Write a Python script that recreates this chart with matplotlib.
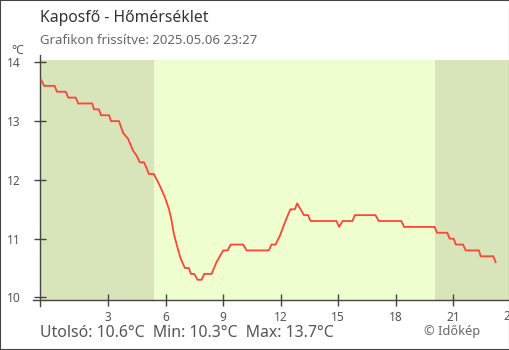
import matplotlib
matplotlib.use("Agg")
import matplotlib.pyplot as plt
from matplotlib.patches import Rectangle
from matplotlib.transforms import blended_transform_factory

plt.rcParams['font.family'] = ['Noto Sans', 'DejaVu Sans']

# Hourly time axis (hours of 2025.05.06, negative = previous evening)
hours = [-0.50, -0.35, 0.20, 0.32, 0.78, 0.91, 1.30, 1.43, 2.16, 2.25, 2.51, 2.62,
         3.04, 3.14, 3.56, 3.77, 4.03, 4.29, 4.50, 4.64, 4.86, 5.00, 5.12, 5.38,
         5.69, 5.96, 6.17, 6.31, 6.41, 6.57, 6.74, 6.86, 7.00, 7.21, 7.31, 7.49,
         7.66, 7.87, 8.01, 8.39, 8.65, 9.00, 9.23, 9.39, 10.04, 10.22, 11.38, 11.52,
         11.73, 11.96, 12.13, 12.31, 12.51, 12.74, 12.86, 13.04, 13.21, 13.43, 13.56,
         14.91, 15.05, 15.23, 15.75, 15.87, 16.95, 17.12, 18.30, 18.44, 20.04, 20.16,
         20.70, 20.82, 21.03, 21.14, 21.52, 21.66, 22.35, 22.44, 23.10, 23.22]
temps = [13.7, 13.6, 13.6, 13.5, 13.5, 13.4, 13.4, 13.3, 13.3, 13.2, 13.2, 13.1,
         13.1, 13.0, 13.0, 12.8, 12.7, 12.5, 12.4, 12.3, 12.3, 12.2, 12.1, 12.1,
         11.9, 11.7, 11.5, 11.3, 11.1, 10.9, 10.7, 10.6, 10.5, 10.5, 10.4, 10.4,
         10.3, 10.3, 10.4, 10.4, 10.6, 10.8, 10.8, 10.9, 10.9, 10.8, 10.8, 10.9,
         10.9, 11.05, 11.2, 11.35, 11.5, 11.5, 11.6, 11.5, 11.4, 11.4, 11.3,
         11.3, 11.2, 11.3, 11.3, 11.4, 11.4, 11.3, 11.3, 11.2, 11.2, 11.1,
         11.1, 11.0, 11.0, 10.9, 10.9, 10.8, 10.8, 10.7, 10.7, 10.6]

x_ticks = [3, 6, 9, 12, 15, 18, 21]
y_ticks = [10, 11, 12, 13, 14]
sunrise, sunset = 5.38, 20.04
t_start, t_end = -0.55, 23.92

title = "Kaposfő - Hőmérséklet"
subtitle = "Grafikon frissítve: 2025.05.06 23:27"
summary = "Utolsó: 10.6°C  Min: 10.3°C  Max: 13.7°C"
credit = "© Időkép"

W, H = 510, 350
fig = plt.figure(figsize=(W / 100, H / 100), dpi=100)
ax = fig.add_axes([40.3 / W, (H - 300) / H, (509 - 40.3) / W, 240 / H])

night = "#d8e4b9"
day = "#effecf"
ax.set_facecolor(day)
ax.axvspan(t_start, sunrise, color=night, lw=0, zorder=0)
ax.axvspan(sunset, t_end, color=night, lw=0, zorder=0)

ax.plot(hours, temps, color="#ff4438", lw=1.3, zorder=3)

ax.set_xlim(t_start, t_end)
ax.set_ylim(9.956, 14.04)

axis_col = "#444444"
lab_col = "#555555"
for s in ["top", "right"]:
    ax.spines[s].set_visible(False)
for s in ["left", "bottom"]:
    ax.spines[s].set_color(axis_col)
    ax.spines[s].set_linewidth(1.0)
ax.spines["left"].set_bounds(9.855, 14.12)
ax.spines["bottom"].set_bounds(t_start - 0.37, t_end)

ax.set_xticks(x_ticks)
ax.set_xticklabels([str(t) for t in x_ticks])
ax.set_yticks(y_ticks)
ax.set_yticklabels([str(t) for t in y_ticks])
ax.tick_params(axis="both", direction="inout", length=9, width=1.0,
               color=axis_col, labelcolor=lab_col, labelsize=8.6)
ax.tick_params(axis="y", pad=9.5)
ax.tick_params(axis="x", pad=3.5)

# last hour label, partly beyond the figure edge
tr = blended_transform_factory(ax.transData, ax.transAxes)
ax.text(24, -0.067, "24", transform=tr, ha="center", va="center",
        color=lab_col, fontsize=8.6, clip_on=False)

fig.text(11.5 / W, 1 - 50 / H, "°C", color=lab_col, fontsize=8.8,
         ha="left", va="center")
fig.text(40 / W, 1 - 18.5 / H, title, color="#333333", fontsize=11.3,
         ha="left", va="center")
fig.text(40 / W, 1 - 41 / H, subtitle, color="#666666", fontsize=9.5,
         ha="left", va="center")
fig.text(40 / W, 1 - 333 / H, summary, color=lab_col, fontsize=11.4,
         ha="left", va="center")
fig.text(424 / W, 1 - 331 / H, credit, color="#666666", fontsize=9.2,
         ha="left", va="center")

fig.patches.append(Rectangle((0, 0), 1, 1, transform=fig.transFigure,
                             fill=False, edgecolor=axis_col, lw=1.5))

fig.savefig("out.png", dpi=100)
